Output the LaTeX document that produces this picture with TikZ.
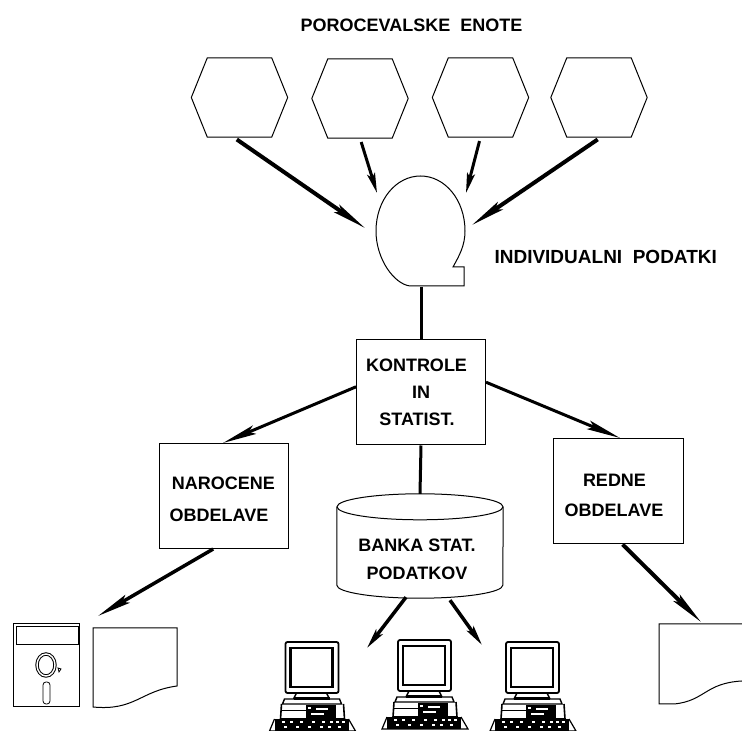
\documentclass[tikz,border=0pt]{standalone}
\usepackage{fontspec}
\setmainfont{Liberation Sans}
\usetikzlibrary{arrows.meta,calc}
\begin{document}
\begin{tikzpicture}[x=1pt,y=1pt,>={Stealth[length=34pt,width=9pt,inset=6pt]}]
\tikzset{
  txt/.style={font=\bfseries\fontsize{18}{27}\selectfont,align=center},
  unit/.style={shape=rectangle,minimum width=96pt,minimum height=79pt,inner sep=0pt},
  job/.style={draw,line width=1pt,shape=rectangle,inner sep=0pt,txt,minimum width=129pt,minimum height=105pt},
  flow/.style={->,line width=3pt},
  stub/.style={flow,>={Stealth[length=20pt,width=8pt,inset=4pt]}},
  feed/.style={line width=3pt},
  pcunit/.pic={
    \draw[line width=1.8pt,rounded corners=2pt] (-26,0) rectangle (27,51);
    \draw[line width=2.2pt] (-21,6) rectangle (21,45);
    \draw[line width=1.4pt] (-15,0) -- (-18,-6) -- (-27,-6) -- (-29,-11) -- (30,-11) -- (28,-6) -- (18,-6) -- (15,0);
    \fill (-18,-4) rectangle (18,-7);
    \draw[line width=1.6pt] (-30,-11) -- (-31,-26) -- (33,-26) -- (32,-11);
    \fill (-6,-12) rectangle (24,-26);
    \fill[white] (-4,-14) rectangle (-1,-16);
    \fill[white] (4,-15) rectangle (16,-17);
    \fill[white] (-1,-20) rectangle (12,-22);
    \draw[line width=1pt] (-31,-18) -- (-6,-18);
    \fill (-37,-26) rectangle (37,-38);
    \draw[line width=1.2pt] (-37,-26) -- (-42,-38) -- (44,-38) -- (37,-26);
    \foreach \dotx in {-30,-22,-12,0,10,18,24,30} \fill[white] (\dotx,-30) rectangle +(3,1.5);
    \foreach \dotx in {-28,-16,-4,8,16,26} \fill[white] (\dotx,-35) rectangle +(3,1.5);
  }
}
\useasboundingbox (0,0) rectangle (742,731);
\node[txt] (title) at (411.5,706) {POROCEVALSKE\ \ ENOTE};
\node[unit] (unita) at (239.5,633.5) {};
\node[unit] (unitb) at (360,632.5) {};
\node[unit] (unitc) at (480.5,633.5) {};
\node[unit] (unitd) at (599,633.5) {};
\foreach \name in {unita,unitb,unitc,unitd}
  \draw[line width=1pt] (\name.west) -- ($(\name.north west)+(16,0)$) -- ($(\name.north east)+(-16,0)$)
    -- (\name.east) -- ($(\name.south east)+(-16,0)$) -- ($(\name.south west)+(16,0)$) -- cycle;
\draw[line width=1pt] (410,445) .. controls (394,447) and (376,472) .. (376,500)
  .. controls (376,531) and (396,555) .. (420.5,555)
  .. controls (445,555) and (465,531) .. (465,500)
  .. controls (465,485) and (459,475) .. (453,464) -- (464,464) -- (464,445) -- cycle;
\node[inner sep=0pt,minimum size=1pt] (tape) at (421,445) {};
\node[txt,anchor=west,font=\bfseries\fontsize{19}{27}\selectfont] (tapelabel) at (491,474) {INDIVIDUALNI\ \ PODATKI};
\node[job] (kontrole) at (421,338.5) {KONTROLE\hspace*{9pt}\\IN\\STATIST.\hspace*{8pt}};
\node[job] (narocene) at (223.5,235) {\rule{0pt}{19pt}NAROCENE\\[5pt]OBDELAVE\hspace*{9pt}};
\node[job,minimum width=130pt] (redne) at (618,239.5) {\rule{0pt}{20pt}REDNE\hspace*{7pt}\\[3pt]OBDELAVE\hspace*{8pt}};
\node[shape=rectangle,inner sep=0pt,minimum width=166pt,minimum height=104pt] (banka) at (420,185) {};
\draw[line width=1pt] ($(banka.north)+(0,-13)$) ellipse (83pt and 13pt);
\draw[line width=1pt] ($(banka.north west)+(0,-13)$) -- ($(banka.south west)+(0,13)$)
  arc[start angle=180,end angle=360,x radius=83,y radius=13] -- ($(banka.north east)+(0,-13)$);
\node[txt] (bankatext) at (417,172) {BANKA STAT.\\[1pt]PODATKOV};
\coordinate (tapea) at (365,503);
\coordinate (tapeb) at (377,538);
\coordinate (tapec) at (466,538);
\coordinate (taped) at (472,506);
\coordinate (jobleft) at (223,288);
\coordinate (jobright) at (620,293);
\coordinate (disk) at (98,115);
\coordinate (sheet) at (701,109);
\coordinate (pcleft) at (367,83);
\coordinate (pcright) at (482,86);
\draw[flow,line width=4pt,shorten <=4pt] ($(unita.south)+(-6,0)$) -- (tapea);
\draw[stub,shorten <=4pt] (unitb.south) -- (tapeb);
\draw[stub,shorten <=4pt] (unitc.south) -- (tapec);
\draw[flow,line width=4pt,shorten <=4pt] ($(unitd.south)+(2,0)$) -- (taped);
\draw[feed] (tape) -- (kontrole.north);
\draw[feed] (kontrole.south) -- (banka.north);
\draw[flow] (kontrole.175) -- (jobleft);
\draw[flow] (kontrole.9) -- (jobright);
\draw[flow,line width=3.5pt] (narocene.259) -- (disk);
\draw[flow,line width=4pt] (redne.-85) -- (sheet);
\draw[stub,line width=3.5pt] ($(banka.south)+(-14,1)$) -- (pcleft);
\draw[stub,line width=3.5pt] ($(banka.south)+(30,-2)$) -- (pcright);
\draw[line width=1pt] (13,24) rectangle (79,107);
\draw[line width=1pt] (16,86) rectangle (78,104);
\draw[line width=1pt,double,double distance=1.4pt] (46,66) ellipse (9pt and 11pt);
\draw[line width=.8pt,rounded corners=3pt] (43,27) rectangle (50,49);
\draw[line width=.8pt] (58,63) -- (61,62) -- (59,59) -- cycle;
\draw[line width=1pt] (93,103) -- (177,103) -- (177,45) .. controls (140,40) and (135,20) .. (93,24) -- cycle;
\draw[line width=1pt] (742,107) -- (659,107) -- (659,27) -- (674,27) .. controls (705,30) and (705,48) .. (742,50);
\pic at (311.5,38) {pcunit};
\pic at (424,40) {pcunit};
\pic at (532,38) {pcunit};
\end{tikzpicture}
\end{document}
